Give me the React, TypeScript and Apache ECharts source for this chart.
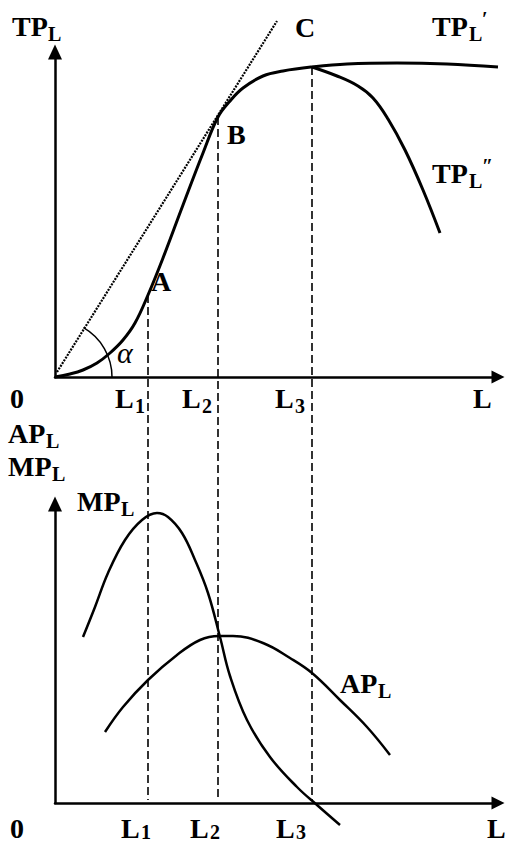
import React, { useEffect, useRef } from "react";
import * as echarts from "echarts";

// Labour quantities marked on the horizontal axes (L1, L2, L3)
const L_MARKS = [93, 163, 257];
// Total product at L1 (A), L2 (B), L3 (C)
const TP_AT_MARKS = [82, 260, 310];
// Level of the lower panel's L axis, expressed in upper-panel units
const DROP_TO = -423;

// Upper panel: total product TP_L (rising part and TP_L')
const TP_MAIN: number[][] = [
  [0, 0], [15, 3], [28, 7], [42, 14], [55, 24], [68, 37], [80, 54], [93, 82],
  [108, 119], [128, 172], [148, 224], [163, 260], [175, 276], [188, 289],
  [208, 301], [228, 306], [257, 310], [292, 313], [342, 314], [392, 313], [443, 310],
];
// Upper panel: TP_L'' branch
const TP_DECLINE: number[][] = [
  [257, 310], [282, 301], [303, 291], [318, 279], [333, 258], [350, 227],
  [368, 187], [385, 144],
];
// Ray from the origin tangent at B
const TANGENT: number[][] = [[2, 5], [222, 356]];

// Lower panel: marginal product MP_L
const MP: number[][] = [
  [28, 166], [40, 196], [53, 230], [70, 263], [87, 283], [102, 290], [113, 286],
  [127, 270], [140, 243], [153, 210], [165, 166], [175, 127], [192, 83],
  [215, 46], [242, 16], [262, -2], [285, -22],
];
// Lower panel: average product AP_L
const AP: number[][] = [
  [50, 71], [68, 96], [93, 123], [122, 148], [145, 163], [164, 167], [178, 167],
  [208, 160], [235, 145], [257, 130], [285, 103], [312, 76], [335, 48],
];

const FONT = "Times New Roman, Liberation Serif, Tinos, serif";
const MAIN = 28;
const SUB = 20;

type Lab = { t: string; x: number; b: number; s: number; italic?: boolean; bold?: boolean };
const LABELS: Lab[] = [
  { t: "TP", x: 12, b: 35, s: MAIN }, { t: "L", x: 48, b: 40, s: SUB },
  { t: "C", x: 295, b: 36, s: MAIN },
  { t: "TP", x: 432, b: 35, s: MAIN }, { t: "L", x: 469, b: 40, s: SUB }, { t: "\u2032", x: 482, b: 25, s: SUB },
  { t: "B", x: 227, b: 143, s: MAIN },
  { t: "TP", x: 432, b: 182, s: MAIN }, { t: "L", x: 469, b: 187, s: SUB }, { t: "\u2033", x: 482, b: 172, s: SUB },
  { t: "A", x: 151, b: 290, s: MAIN },
  { t: "\u03b1", x: 117, b: 362, s: 30, italic: true, bold: false },
  { t: "0", x: 10, b: 407, s: MAIN },
  { t: "L", x: 115, b: 407, s: MAIN }, { t: "1", x: 135, b: 412, s: SUB },
  { t: "L", x: 182, b: 407, s: MAIN }, { t: "2", x: 202, b: 412, s: SUB },
  { t: "L", x: 275, b: 407, s: MAIN }, { t: "3", x: 295, b: 412, s: SUB },
  { t: "L", x: 473, b: 407, s: MAIN },
  { t: "AP", x: 8, b: 442, s: MAIN }, { t: "L", x: 46, b: 447, s: SUB },
  { t: "MP", x: 8, b: 475, s: MAIN }, { t: "L", x: 52, b: 480, s: SUB },
  { t: "MP", x: 77, b: 510, s: MAIN }, { t: "L", x: 121, b: 515, s: SUB },
  { t: "AP", x: 340, b: 692, s: MAIN }, { t: "L", x: 378, b: 697, s: SUB },
  { t: "0", x: 10, b: 837, s: MAIN },
  { t: "L", x: 121, b: 837, s: MAIN }, { t: "1", x: 141, b: 838, s: SUB },
  { t: "L", x: 190, b: 837, s: MAIN }, { t: "2", x: 210, b: 838, s: SUB },
  { t: "L", x: 276, b: 837, s: MAIN }, { t: "3", x: 296, b: 838, s: SUB },
  { t: "L", x: 487, b: 837, s: MAIN },
];

const axisLine = (size: number[]) => ({
  show: true,
  onZero: false,
  symbol: ["none", "triangle"],
  symbolSize: size,
  lineStyle: { color: "#000", width: 2.5 },
});

const valueAxis = (gridIndex: number, max: number, size: number[]) => ({
  type: "value",
  gridIndex,
  min: 0,
  max,
  axisLine: axisLine(size),
  axisTick: { show: false },
  axisLabel: { show: false },
  splitLine: { show: false },
});

export default function App() {
  const ref = useRef<HTMLDivElement>(null);
  useEffect(() => {
    if (!ref.current) return;
    const chart = echarts.init(ref.current, undefined, { renderer: "svg" });
    const curve = (name: string, data: number[][], grid: number, width: number, extra: any = {}) => ({
      name,
      type: "line",
      xAxisIndex: grid,
      yAxisIndex: grid,
      data,
      symbol: "none",
      clip: false,
      smooth: 0.4,
      lineStyle: { color: "#000", width },
      silent: true,
      ...extra,
    });
    const drops = L_MARKS.map((l, i) =>
      curve(`drop${i}`, [[l, TP_AT_MARKS[i]], [l, DROP_TO]], 0, 1.6, {
        smooth: false,
        lineStyle: { color: "#000", width: 1.6, type: [8, 4] },
      })
    );
    chart.setOption({
      animation: false,
      backgroundColor: "#fff",
      grid: [
        { left: 55, right: 8, top: 52, bottom: 466, outerBoundsMode: "none" },
        { left: 55, right: 8, top: 504, bottom: 40, outerBoundsMode: "none" },
      ],
      xAxis: [valueAxis(0, 443, [13, 13]), valueAxis(1, 443, [13, 13])],
      yAxis: [valueAxis(0, 325, [14, 15]), valueAxis(1, 299, [14, 15])],
      series: [
        ...drops,
        curve("tangent", TANGENT, 0, 2.2, {
          smooth: false,
          lineStyle: { color: "#000", width: 2.2, type: [2, 1.2] },
        }),
        curve("TP", TP_MAIN, 0, 3),
        curve("TP2", TP_DECLINE, 0, 3),
        curve("MP", MP, 1, 2.5),
        curve("AP", AP, 1, 2.5),
      ],
      graphic: [
        {
          type: "arc",
          shape: { cx: 55, cy: 377, r: 57, startAngle: -Math.PI / 3, endAngle: 0, clockwise: true },
          style: { stroke: "#000", lineWidth: 1.5, fill: null },
          silent: true,
        },
        ...LABELS.map((l) => ({
          type: "text",
          x: l.x,
          y: l.b - 0.32 * l.s,
          silent: true,
          style: {
            text: l.t,
            fill: "#000",
            font: `${l.italic ? "italic" : "normal"} ${l.bold === false ? "normal" : "bold"} ${l.s}px ${FONT}`,
            align: "left",
            verticalAlign: "middle",
          },
        })),
      ],
    });
    return () => chart.dispose();
  }, []);
  return (
    <div
      ref={ref}
      style={{ position: "absolute", left: 0, top: 0, width: 506, height: 843, background: "#fff" }}
    />
  );
}
